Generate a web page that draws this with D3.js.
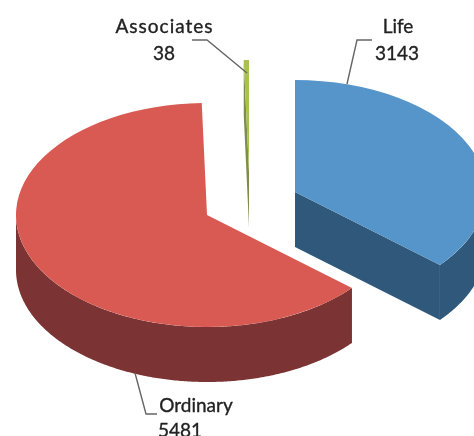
<!DOCTYPE html>
<html>
<head>
<meta charset="utf-8">
<script src="https://cdn.jsdelivr.net/npm/d3@7"></script>
<style>
    html, body { margin: 0; padding: 0; background: #fff; overflow: hidden; }
    svg { display: block; filter: blur(0.5px); }
    text { font-family: Lato, sans-serif; font-size: 19px; fill: #222; stroke: #222; stroke-width: 0.35px; text-anchor: middle; }
</style>
</head>
<body>
<div id="chart"></div>
<script>
const categories = ["Life", "Ordinary", "Associates"];
const values = [3143, 5481, 38];
const topColors = ["#5595c9", "#d95a52", "#a9c24e"];
const wallColors = ["#2f587b", "#7b3433", "#7f8d4c"];

// every slice is pulled out on its own, so each one has its own centre
const centresX = [295, 207, 249];
const centresY = [192, 215, 172];
const leaders = [
    [[372, 40], [357, 40], [347, 84]],
    [[135, 373], [146, 414], [157, 414]],
    [[192, 40], [207, 40], [247, 73]]
];
const labelX = [398, 196, 164];
const labelY = [33, 412, 33];
const labelWidths = [null, null, 97];
const valueX = [397, 180, 164];
const valueY = [60, 437, 60];

const width = 474, height = 436;
const rx = 191, ry = 112, depth = 55;

const svg = d3.select("#chart").append("svg")
    .attr("width", width)
    .attr("height", height);

const pie = d3.pie().value(d => d).sort(null);
const slices = pie(values);

const arc = d3.arc().innerRadius(0).outerRadius(rx);
const line = d3.line();

function ellipsePoint(i, angle, y = 0) {
    return [centresX[i] + rx * Math.sin(angle), centresY[i] - ry * Math.cos(angle) + y];
}

// the outer rim, only the part that faces the viewer (90deg to 270deg)
function rimPath(i, d) {
    const a0 = Math.max(d.startAngle, Math.PI / 2);
    const a1 = Math.min(d.endAngle, 3 * Math.PI / 2);
    if (a1 <= a0) return null;
    const angles = d3.range(a0, a1, 0.01).concat(a1);
    const upper = angles.map(a => ellipsePoint(i, a));
    const lower = angles.slice().reverse().map(a => ellipsePoint(i, a, depth));
    return line(upper.concat(lower)) + "Z";
}

// flat cut face running from the centre to the rim at the given angle
function cutPath(i, angle) {
    const c = [centresX[i], centresY[i]];
    const e = ellipsePoint(i, angle);
    return line([c, e, [e[0], e[1] + depth], [c[0], c[1] + depth]]) + "Z";
}

const groups = svg.selectAll(".slice")
    .data(slices)
    .enter().append("g")
    .attr("class", "slice");

groups.each(function (d, i) {
    const g = d3.select(this);

    // Life shows its cut face, Associates is a sliver that shows its left one
    if (i === 0) {
        g.append("path").attr("d", cutPath(i, d.endAngle)).attr("fill", wallColors[i]);
    }
    if (i === 2) {
        g.append("path").attr("d", cutPath(i, d.startAngle)).attr("fill", wallColors[i]);
    }

    const rim = rimPath(i, d);
    if (rim) {
        g.append("path").attr("d", rim).attr("fill", wallColors[i]);
    }

    g.append("path")
        .attr("d", arc(d))
        .attr("transform", `translate(${centresX[i]},${centresY[i]}) scale(1,${ry / rx})`)
        .attr("fill", topColors[i]);
});

svg.selectAll(".leader")
    .data(leaders)
    .enter().append("path")
    .attr("class", "leader")
    .attr("d", d => line(d))
    .attr("fill", "none")
    .attr("stroke", "#666")
    .attr("stroke-width", 1.4);

categories.forEach((name, i) => {
    const label = svg.append("text").attr("x", labelX[i]).attr("y", labelY[i]).text(name);
    if (labelWidths[i]) label.attr("textLength", labelWidths[i]);
    svg.append("text").attr("x", valueX[i]).attr("y", valueY[i]).text(values[i]);
});
</script>
</body>
</html>
